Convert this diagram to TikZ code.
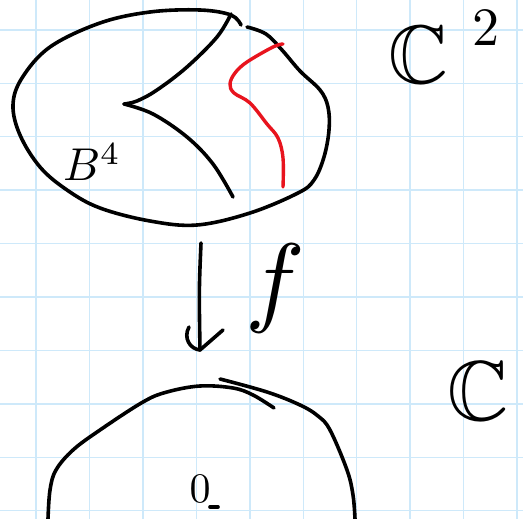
\documentclass[tikz,border=0pt]{standalone}
\usepackage{amssymb}
\definecolor{gridc}{RGB}{206,233,250}
\definecolor{redpen}{RGB}{232,20,30}
\tikzset{
  pen/.style={line width=3.6pt, line cap=round, line join=round, black},
  redstroke/.style={line width=3.4pt, line cap=round, line join=round, redpen},
  hand/.style={inner sep=0pt, outer sep=0pt},
}
\begin{document}
\begin{tikzpicture}[x=1pt,y=-1pt]
\useasboundingbox (0,0) rectangle (523,519);
\fill[white] (0,0) rectangle (523,519);
% grid paper
\foreach \i in {0,...,9} {
  \draw[gridc, line width=1.4pt] ({36+53.45*\i},0) -- ({36+53.45*\i},519);
}
\foreach \j in {0,...,9} {
  \draw[gridc, line width=1.4pt] (0,{30+53.4*\j}) -- (523,{30+53.4*\j});
}
% top ball B^4 boundary
\draw[pen] plot[smooth, tension=0.6] coordinates {
  (241,25) (231,15) (200,10) (150,12) (100,23) (50,47) (22,78) (13,105)
  (20,135) (40,167) (67,190) (100,208) (150,221) (197,225) (250,213)
  (298,193) (314,180) (324,157) (329,130) (328,107) (320,90) (300,71)
  (282,50) (266,34) (247,27)};
% cusp curve
\draw[pen] plot[smooth, tension=0.6] coordinates {
  (231,14) (217,37) (187,67) (157,90) (137,101) (124,104)};
\draw[pen] plot[smooth, tension=0.6] coordinates {
  (124,104) (153,114) (187,137) (213,164) (233,197)};
% red curve
\draw[redstroke] plot[smooth, tension=0.6] coordinates {
  (283,44) (273,47) (247,62) (235,73) (230,84) (234,93) (250,103)
  (267,124) (278,138) (283,158) (283,187)};
% labels top
\node[hand, scale=8.3] (C2) at (418,55) {$\mathbb{C}$};
\node[hand, scale=5.4] (two) at (486,28) {$2$};
\node[hand, scale=4.6] (B4) at (92,162) {$B^4$};
% map f
\coordinate (arrS) at (201,243);
\coordinate (arrE) at (200,350);
\draw[pen] (arrS) .. controls (199,290) .. (arrE);
\draw[pen] (189,327) .. controls (183,338) and (190,349) .. (arrE);
\draw[pen] (223,330) -- (arrE);
\node[hand, scale=10] (f) at (275,288) {$f$};
% bottom disc
\draw[pen] plot[smooth, tension=0.6] coordinates {
  (48,519) (50,490) (56,470) (73,450) (100,430) (143,402) (167,392)
  (200,386) (233,388) (253,395) (274,408)};
\draw[pen] plot[smooth, tension=0.6] coordinates {
  (220,379) (267,392) (300,405) (318,416) (330,430) (347,470) (353,495) (355,519)};
\node[hand, scale=8.5] (C1) at (478,391) {$\mathbb{C}$};
\node[hand, scale=4.2] (zero) at (200,489) {$0$};
\draw[pen] (210,507) -- (218,507);
\end{tikzpicture}
\end{document}
